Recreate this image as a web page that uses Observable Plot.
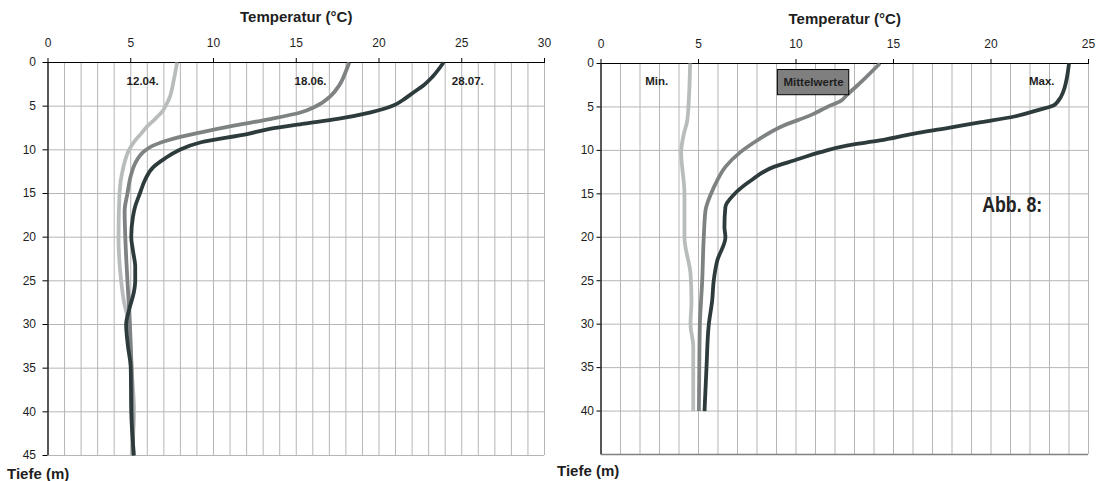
<!DOCTYPE html>
<html><head><meta charset="utf-8">
<script src="https://cdn.jsdelivr.net/npm/d3@7"></script>
<script src="https://cdn.jsdelivr.net/npm/@observablehq/plot@0.6"></script>
<style>
body{margin:0;background:#fff;}
#wrap{position:relative;width:1107px;height:481px;overflow:hidden;font-family:"Liberation Sans",Arial,sans-serif;}
#left,#right{position:absolute;top:0;}
#left{left:0}
#right{left:553px}
</style></head><body><div id="wrap"><div id="left"></div><div id="right"></div></div>
<script>
// ---------- Left panel data (depth in m, temperature in °C) ----------
const depth1204 = [0, 2, 4, 5, 5.5, 6.5, 7.2, 8.2, 9.1, 10, 12, 15, 20, 25, 27.3, 30, 35, 40, 45];
const temp1204  = [7.8, 7.6, 7.35, 7.1, 6.95, 6.45, 6.05, 5.6, 5.2, 4.9, 4.55, 4.32, 4.26, 4.42, 4.58, 4.9, 5.05, 5.2, 5.05];

const depth1806 = [0, 1, 2.6, 3.8, 5.1, 5.7, 6.45, 7.2, 8.0, 8.9, 9.6, 10.1, 11.6, 13, 15, 17, 20, 25, 30, 35, 40, 45];
const temp1806  = [18.2, 18.0, 17.6, 17.1, 16.1, 15.3, 13.5, 11.3, 9.25, 7.25, 6.25, 5.85, 5.25, 5.0, 4.8, 4.63, 4.67, 4.8, 4.95, 5.05, 5.1, 5.15];

const depth2807 = [0, 1.7, 2.6, 3.4, 4.35, 4.9, 5.7, 6.45, 7.0, 7.6, 8.17, 9.13, 10.1, 11, 12, 13.5, 15, 16.6, 17.7, 20, 21.5, 23.4, 25, 26.3, 28.1, 30, 32.3, 35, 40, 45];
const temp2807  = [23.9, 23.2, 22.7, 22.1, 21.4, 20.9, 19.5, 17.5, 15.5, 13.4, 12.1, 9.25, 7.85, 7.05, 6.35, 5.85, 5.55, 5.25, 5.13, 5.03, 5.13, 5.27, 5.27, 5.19, 4.93, 4.72, 4.82, 5.0, 5.03, 5.19];

// ---------- Right panel data ----------
const depthMin = [0, 4.3, 6.6, 8.1, 10.2, 15, 20, 24.2, 27.3, 30, 32.6, 40];
const tempMin  = [4.57, 4.5, 4.42, 4.25, 4.11, 4.28, 4.28, 4.59, 4.64, 4.59, 4.73, 4.73];

const depthMean = [0, 2, 3.65, 4.3, 5, 5.8, 7.3, 8.86, 10.2, 11.9, 13.5, 15.1, 16.9, 20, 25, 30, 35, 40];
const tempMean  = [14.3, 13.4, 12.6, 12.3, 11.6, 10.9, 9.2, 8.0, 7.15, 6.38, 5.95, 5.62, 5.36, 5.27, 5.19, 5.07, 5.04, 5.02];

const depthMax = [0, 2.1, 3.1, 4.3, 4.83, 5.3, 6.1, 6.75, 7.44, 8.1, 8.86, 9.44, 10.2, 11.16, 11.9, 13.5, 15.1, 16.5, 18.8, 20, 22.7, 25, 27.3, 30, 35, 40];
const tempMax  = [24.0, 23.85, 23.73, 23.45, 23.2, 22.5, 21.2, 19.5, 17.75, 16.0, 14.3, 12.6, 11.26, 9.9, 8.86, 7.67, 6.81, 6.38, 6.33, 6.38, 5.96, 5.78, 5.7, 5.53, 5.41, 5.31];

// ---------- Labels ----------
const seriesLeft  = ["12.04.", "18.06.", "28.07."];
const seriesRight = ["Min.", "Mittelwerte", "Max."];
const labelLeftT  = [4.75, 14.9, 24.4];
const labelLeftD  = [2.2, 2.2, 2.1];
const labelRightT = [2.86, 10.9, 22.6];
const labelRightD = [2.1, 2.2, 2.1];
const xTicksLeft  = [0, 5, 10, 15, 20, 25, 30];
const xTicksRight = [0, 5, 10, 15, 20, 25];
const yTicksLeft  = [0, 5, 10, 15, 20, 25, 30, 35, 40, 45];
const yTicksRight = [0, 5, 10, 15, 20, 25, 30, 35, 40];
const xTitle = "Temperatur (°C)";
const yTitle = "Tiefe (m)";
const figLabel = "Abb. 8:";

const lineColors = ["#b9bcbd", "#7e8283", "#2e3b3d"];

function rows(name, depths, temps) { return depths.map((d, i) => ({name, depth: d, temp: temps[i]})); }

const dataLeft = [
  ...rows(seriesLeft[0], depth1204, temp1204),
  ...rows(seriesLeft[1], depth1806, temp1806),
  ...rows(seriesLeft[2], depth2807, temp2807)
];
const dataRight = [
  ...rows(seriesRight[0], depthMin, tempMin),
  ...rows(seriesRight[1], depthMean, tempMean),
  ...rows(seriesRight[2], depthMax, tempMax)
];
const labLeft = seriesLeft.map((s, i) => ({s, t: labelLeftT[i], d: labelLeftD[i]}));
const labRight = seriesRight.map((s, i) => ({s, t: labelRightT[i], d: labelRightD[i]}));

const gridColor = "#b5b5b5";
const textColor = "#1e1e1e";
const baseStyle = {fontFamily: "'Liberation Sans', Arial, sans-serif", fontSize: "12px", color: textColor, background: "transparent", overflow: "visible"};

const left = Plot.plot({
  width: 553, height: 481,
  marginLeft: 47.5, marginRight: 9, marginTop: 62, marginBottom: 26,
  style: baseStyle,
  x: {domain: [0, 30], axis: null},
  y: {domain: [0, 45], reverse: true, axis: null},
  color: {domain: seriesLeft, range: lineColors},
  marks: [
    Plot.gridX({ticks: d3.range(0, 31), stroke: gridColor, strokeOpacity: 1}),
    Plot.gridY({ticks: yTicksLeft, stroke: gridColor, strokeOpacity: 1}),
    Plot.axisX({ticks: xTicksLeft, anchor: "top", tickSize: 5, tickPadding: 11, label: null, fontSize: 12, stroke: "#000"}),
    Plot.axisY({ticks: yTicksLeft, anchor: "left", tickSize: 5, tickPadding: 7, label: null, fontSize: 12, stroke: "#000"}),
    Plot.ruleX([0], {stroke: "#000", strokeWidth: 1.2}),
    Plot.ruleY([0], {stroke: "#000", strokeWidth: 1.2}),
    Plot.line(dataLeft, {x: "temp", y: "depth", z: "name", stroke: "name", curve: "monotone-y", strokeWidth: 3.8, strokeLinecap: "butt"}),
    Plot.text(labLeft, {x: "t", y: "d", text: "s", textAnchor: "start", fontWeight: "bold", fontSize: 11.5, fill: textColor}),
    Plot.text([xTitle], {frameAnchor: "top", lineAnchor: "middle", dy: -45, fontWeight: "bold", fontSize: 15, fill: textColor}),
    Plot.text([yTitle], {frameAnchor: "bottom-left", textAnchor: "start", lineAnchor: "middle", dx: -41, dy: 19, fontWeight: "bold", fontSize: 15, fill: textColor})
  ]
});
document.getElementById("left").append(left);

const right = Plot.plot({
  width: 554, height: 481,
  marginLeft: 47.5, marginRight: 19, marginTop: 63, marginBottom: 27,
  style: baseStyle,
  x: {domain: [0, 25], axis: null},
  y: {domain: [0, 45], reverse: true, axis: null},
  color: {domain: seriesRight, range: lineColors},
  marks: [
    Plot.gridX({ticks: d3.range(0, 26), stroke: gridColor, strokeOpacity: 1}),
    Plot.gridY({ticks: yTicksRight, stroke: gridColor, strokeOpacity: 1}),
    Plot.ruleY([45], {stroke: "#808080", strokeWidth: 1.5}),
    Plot.axisX({ticks: xTicksRight, anchor: "top", tickSize: 5, tickPadding: 11, label: null, fontSize: 12, stroke: "#000"}),
    Plot.axisY({ticks: yTicksRight, anchor: "left", tickSize: 4, tickPadding: 3, label: null, fontSize: 12, stroke: "#000"}),
    Plot.ruleX([0], {stroke: "#000", strokeWidth: 1.2}),
    Plot.ruleY([0], {stroke: "#000", strokeWidth: 1.2}),
    Plot.line(dataRight, {x: "temp", y: "depth", z: "name", stroke: "name", curve: "monotone-y", strokeWidth: 3.8, strokeLinecap: "butt"}),
    Plot.rect([labRight[1]], {x1: d => d.t - 1.83, x2: d => d.t + 1.83, y1: d => d.d - 1.45, y2: d => d.d + 1.45, fill: "#7f7f7f", stroke: "#000", strokeWidth: 1}),
    Plot.text(labRight, {x: "t", y: "d", text: "s", textAnchor: "middle", fontWeight: "bold", fontSize: 11.5, fill: textColor}),
    Plot.text([figLabel], {x: 19.55, y: 16.3, textAnchor: "start", fontWeight: "bold", fontSize: 22, fill: "#222"}),
    Plot.text([xTitle], {frameAnchor: "top", lineAnchor: "middle", dy: -44, fontWeight: "bold", fontSize: 15, fill: textColor}),
    Plot.text([yTitle], {frameAnchor: "bottom-left", textAnchor: "start", lineAnchor: "middle", dx: -44, dy: 17, fontWeight: "bold", fontSize: 15, fill: textColor})
  ]
});
document.getElementById("right").append(right);

// condensed look for the figure label
d3.select(right).selectAll("text").filter(function () { return this.textContent === figLabel; })
  .attr("textLength", 60).attr("lengthAdjust", "spacingAndGlyphs");
</script>
</body></html>
